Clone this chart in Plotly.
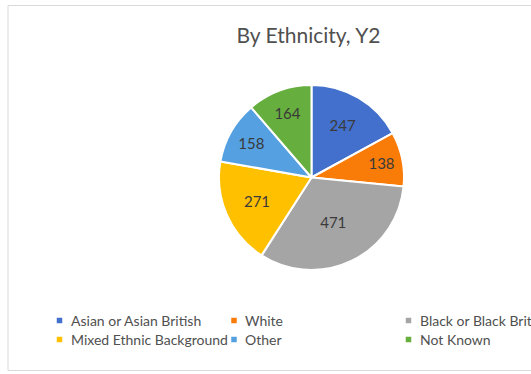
import plotly.graph_objects as go

# Data
categories = ["Asian or Asian British", "White", "Black or Black British",
              "Mixed Ethnic Background", "Other", "Not Known"]
counts = [247, 138, 471, 271, 158, 164]
colors = ["#4270CC", "#F97B08", "#A5A5A5", "#FFC000", "#55A0E0", "#66AE3E"]
title_text = "By Ethnicity, Y2"

# Canvas (pixels)
W, H = 531, 374
FONT = "Lato"


def px_x(x):
    return x / W


def px_y(y):
    return 1 - y / H


# Pie placement in pixels
cx, cy, r = 311.5, 177.5, 92.5

fig = go.Figure(
    go.Pie(
        labels=categories,
        values=counts,
        sort=False,
        direction="clockwise",
        rotation=0,
        marker=dict(colors=colors, line=dict(color="white", width=2)),
        textinfo="value",
        textposition="inside",
        insidetextorientation="horizontal",
        textfont=dict(family=FONT, size=15, color="#3A3A3A"),
        domain=dict(x=[px_x(cx - r), px_x(cx + r)],
                    y=[px_y(cy + r), px_y(cy - r)]),
        showlegend=False,
    )
)

shapes = [
    # chart frame
    dict(type="rect", xref="paper", yref="paper",
         x0=px_x(8), x1=px_x(W + 20), y0=px_y(370.5), y1=px_y(5.5),
         line=dict(color="#D9D9D9", width=1), fillcolor="rgba(0,0,0,0)",
         layer="below"),
]
annotations = []

# Legend grid: three columns, two rows
col_x = [59.5, 234.0, 408.5]
row_y = [320.5, 339.5]
sq = 5.5
for i, (name, col) in enumerate(zip(categories, colors)):
    x = col_x[i % 3]
    y = row_y[i // 3]
    shapes.append(dict(type="rect", xref="paper", yref="paper",
                       x0=px_x(x - sq / 2), x1=px_x(x + sq / 2),
                       y0=px_y(y + sq / 2), y1=px_y(y - sq / 2),
                       line=dict(width=0), fillcolor=col))
    annotations.append(dict(text=name, xref="paper", yref="paper",
                            x=px_x(x + 9), y=px_y(y), xanchor="left",
                            yanchor="middle", showarrow=False,
                            font=dict(family=FONT, size=14, color="#505050")))

fig.update_layout(
    width=W, height=H,
    margin=dict(l=0, r=0, t=0, b=0),
    paper_bgcolor="white",
    plot_bgcolor="white",
    title=dict(text=title_text, x=px_x(308.5), xanchor="center",
               xref="paper", yref="container", y=px_y(35.5),
               yanchor="middle",
               font=dict(family=FONT, size=21, color="#505050")),
    shapes=shapes,
    annotations=annotations,
    showlegend=False,
)

fig.write_html("out.html")
